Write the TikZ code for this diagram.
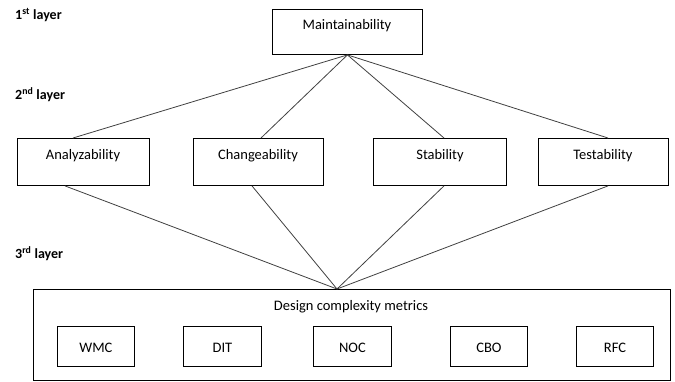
\documentclass[tikz,border=0pt]{standalone}
\usepackage{fontspec}
\setmainfont{Carlito}
\begin{document}
\begin{tikzpicture}[x=1pt,y=-1pt,
  box/.style={draw=black,line width=0.9pt,inner sep=0pt},
  lbl/.style={inner sep=0pt,font=\fontsize{14.5}{16}\selectfont},
  layer/.style={anchor=west,inner sep=0pt,font=\bfseries\fontsize{14}{16}\selectfont},
  link/.style={draw=black!75,line width=0.8pt}]
\useasboundingbox (0,0) rectangle (675,381);
% layer labels
\node[layer] (l1) at (15,15) {1\textsuperscript{st} layer};
\node[layer] (l2) at (15,95) {2\textsuperscript{nd} layer};
\node[layer] (l3) at (15,254) {3\textsuperscript{rd} layer};
% top
\node[box,minimum width=150pt,minimum height=45pt,anchor=north west] (m) at (272,9) {};
\node[lbl] (mt) at (347,26) {Maintainability};
% second layer
\node[box,minimum width=132pt,minimum height=47pt,anchor=north west] (a) at (17,138) {};
\node[box,minimum width=130pt,minimum height=47pt,anchor=north west] (c) at (193,138) {};
\node[box,minimum width=133pt,minimum height=47pt,anchor=north west] (s) at (373,138) {};
\node[box,minimum width=130pt,minimum height=47pt,anchor=north west] (t) at (538,138) {};
\node[lbl] (at) at (83,156) {Analyzability};
\node[lbl] (ct) at (258,156) {Changeability};
\node[lbl] (st) at (440,156) {Stability};
\node[lbl] (tt) at (603,156) {Testability};
% third layer
\node[box,minimum width=637pt,minimum height=91pt,anchor=north west] (d) at (33,289) {};
\node[lbl] (dt) at (351,307) {Design complexity metrics};
\node[box,minimum width=77pt,minimum height=40pt,anchor=north west] (w) at (57,326) {};
\node[box,minimum width=78pt,minimum height=40pt,anchor=north west] (di) at (183,326) {};
\node[box,minimum width=78pt,minimum height=40pt,anchor=north west] (n) at (313,326) {};
\node[box,minimum width=77pt,minimum height=40pt,anchor=north west] (cb) at (450,326) {};
\node[box,minimum width=77pt,minimum height=40pt,anchor=north west] (r) at (576,326) {};
\node[lbl] at ([yshift=-1pt]w.center) {WMC};
\node[lbl] at ([yshift=-1pt]di.center) {DIT};
\node[lbl] at ([yshift=-1pt]n.center) {NOC};
\node[lbl] at ([yshift=-1pt]cb.center) {CBO};
\node[lbl] at ([yshift=-1pt]r.center) {RFC};
% connectors
\coordinate (apex) at (d.north -| 337,0);
\draw[link] (m.south) -- (a.north -| 73,0);
\draw[link] (m.south) -- (c.north -| 261,0);
\draw[link] (m.south) -- (s.north -| 444,0);
\draw[link] (m.south) -- (t.north -| 608,0);
\draw[link] (a.south -| 65,0) -- (apex);
\draw[link] (c.south -| 252,0) -- (apex);
\draw[link] (s.south -| 444,0) -- (apex);
\draw[link] (t.south -| 608,0) -- (apex);
\end{tikzpicture}
\end{document}
